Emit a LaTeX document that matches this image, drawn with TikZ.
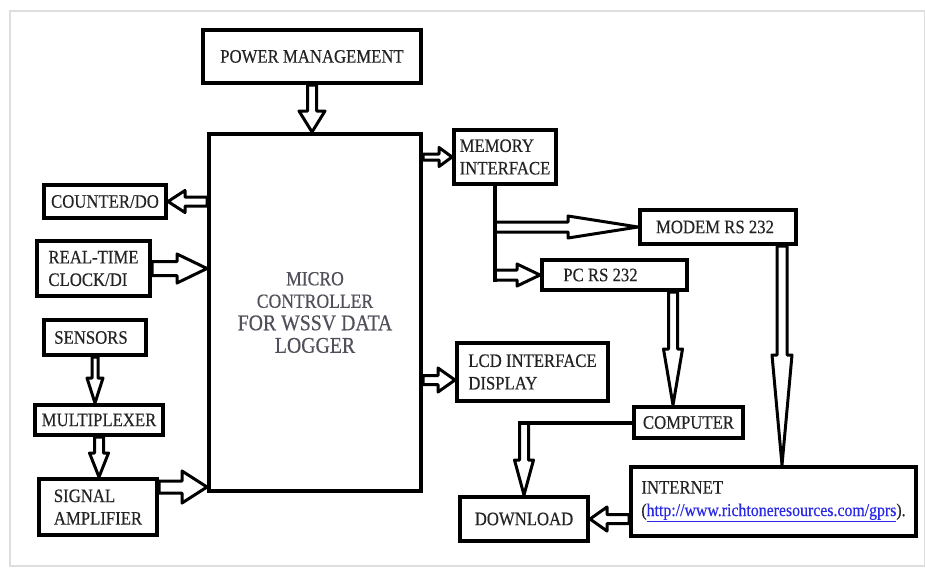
\documentclass[tikz,border=0pt]{standalone}
\usepackage{fontspec}
\setmainfont[FakeStretch=0.88,FakeBold=0.4]{Liberation Serif}
\usetikzlibrary{calc}
\pgfdeclarelayer{background}
\pgfsetlayers{background,main}
\definecolor{txt}{RGB}{35,35,35}
\definecolor{mctxt}{RGB}{80,80,90}
\definecolor{urlblue}{RGB}{40,40,230}
\definecolor{framegray}{RGB}{222,222,222}
\newcommand{\hollowarrow}[5]{%
  \path (#1) coordinate (ha-a) (#2) coordinate (ha-b);
  \coordinate (ha-p) at ($(ha-b)!#5!(ha-a)$);
  \filldraw[harrow]
    ($(ha-a)!#3!90:(ha-b)$) -- ($(ha-p)!#3!-90:(ha-a)$) --
    ($(ha-p)!#4!-90:(ha-a)$) -- (ha-b) --
    ($(ha-p)!#4!90:(ha-a)$) -- ($(ha-p)!#3!90:(ha-a)$) --
    ($(ha-a)!#3!-90:(ha-b)$) -- cycle;
}
\begin{document}
\begin{tikzpicture}[x=1pt,y=-1pt,
  box/.style={draw=black,line width=4pt,inner sep=0pt,text=txt,align=left,
    font=\fontsize{19}{22.5}\selectfont},
  harrow/.style={draw=black,fill=white,line width=3pt,line join=round},
  wire/.style={draw=black,line width=4pt}]
\useasboundingbox (0,0) rectangle (925,568);
\draw[framegray,line width=1.2pt] (10,11) rectangle (925,566);
% boxes
\node[box,minimum width=218pt,minimum height=53pt] (pm) at (312,56.5) {POWER MANAGEMENT};
\node[box,minimum width=212pt,minimum height=357pt,text=mctxt,align=center,
  font=\fontsize{20}{22.5}\selectfont] (mc) at (315,312.5)
  {MICRO\\CONTROLLER\\{\fontsize{22.5}{22.5}\selectfont FOR WSSV DATA}\\{\fontsize{22.5}{22.5}\selectfont LOGGER}};
\node[box,minimum width=102pt,minimum height=54pt] (mem) at (505,157) {MEMORY\\INTERFACE};
\node[box,minimum width=122pt,minimum height=33pt] (cnt) at (105,201.5) {COUNTER/DO};
\node[box,minimum width=113pt,minimum height=55pt] (rtc) at (93.5,268.5) {REAL-TIME\\CLOCK/DI};
\node[box,minimum width=102pt,minimum height=35pt] (sen) at (95,337.5) {SENSORS\hspace*{8pt}};
\node[box,minimum width=128pt,minimum height=30pt] (mux) at (99,420) {MULTIPLEXER};
\node[box,minimum width=118pt,minimum height=56pt] (sig) at (98,507) {SIGNAL\\AMPLIFIER};
\node[box,minimum width=151pt,minimum height=58pt] (lcd) at (532.5,372) {LCD INTERFACE\\DISPLAY};
\node[box,minimum width=156pt,minimum height=34pt] (mod) at (718,227) {MODEM RS 232\hspace*{6pt}};
\node[box,minimum width=145pt,minimum height=30pt] (pc) at (614.5,275) {PC RS 232\hspace*{28pt}};
\node[box,minimum width=109pt,minimum height=31pt] (comp) at (688.5,422.5) {COMPUTER};
\node[box,minimum width=285pt,minimum height=69pt] (inet) at (773.5,501.5)
  {INTERNET\\{\fontsize{18}{22.5}\selectfont(\textcolor{urlblue}{\underline{http://www.richtoneresources.com/gprs}}).}};
\node[box,minimum width=128pt,minimum height=44pt] (dl) at (524,519) {DOWNLOAD};
% junction coordinates
\coordinate (jx) at ($(mem.south)+(-10,0)$);
\coordinate (jend) at ($(jx |- pc.west)+(0,7)$);
\coordinate (pcout) at ($(pc.south)+(58.5,0)$);
\coordinate (modout) at ($(mod.south)+(64,0)$);
\coordinate (sigout) at ($(sig.east)+(0,-20)$);
\coordinate (lcdin) at ($(lcd.west)+(0,8)$);
\coordinate (corner) at (dl.north |- comp.west);
\begin{pgfonlayer}{background}
\hollowarrow{pm.south}{pm.south |- mc.north}{4.5pt}{13pt}{21pt}
\hollowarrow{mc.east |- mem.west}{mem.west}{3pt}{9.5pt}{13pt}
\hollowarrow{mc.west |- cnt.east}{cnt.east}{4.5pt}{11pt}{17pt}
\hollowarrow{rtc.east}{rtc.east -| mc.west}{7pt}{14.5pt}{30pt}
\hollowarrow{sen.south}{sen.south |- mux.north}{3pt}{8pt}{25pt}
\hollowarrow{mux.south}{mux.south |- sig.north}{4.5pt}{9.5pt}{24pt}
\hollowarrow{sigout}{sigout -| mc.west}{6pt}{16pt}{25pt}
\hollowarrow{mc.east |- lcdin}{lcdin}{4.5pt}{12pt}{17pt}
\hollowarrow{jx |- mod.west}{mod.west}{5pt}{11pt}{70pt}
\hollowarrow{jx |- pc.west}{pc.west}{5pt}{11pt}{23pt}
\hollowarrow{pcout}{pcout |- comp.north}{4.5pt}{9.5pt}{56pt}
\hollowarrow{modout}{modout |- inet.north}{5pt}{10pt}{110pt}
\hollowarrow{corner}{dl.north}{4.5pt}{9.5pt}{35pt}
\hollowarrow{inet.west |- dl.east}{dl.east}{4.5pt}{12pt}{17pt}
\end{pgfonlayer}
% plain wires
\draw[wire] (jx) -- (jend);
\draw[wire] (comp.west) -- ($(corner)+(-6,0)$);
\end{tikzpicture}
\end{document}
